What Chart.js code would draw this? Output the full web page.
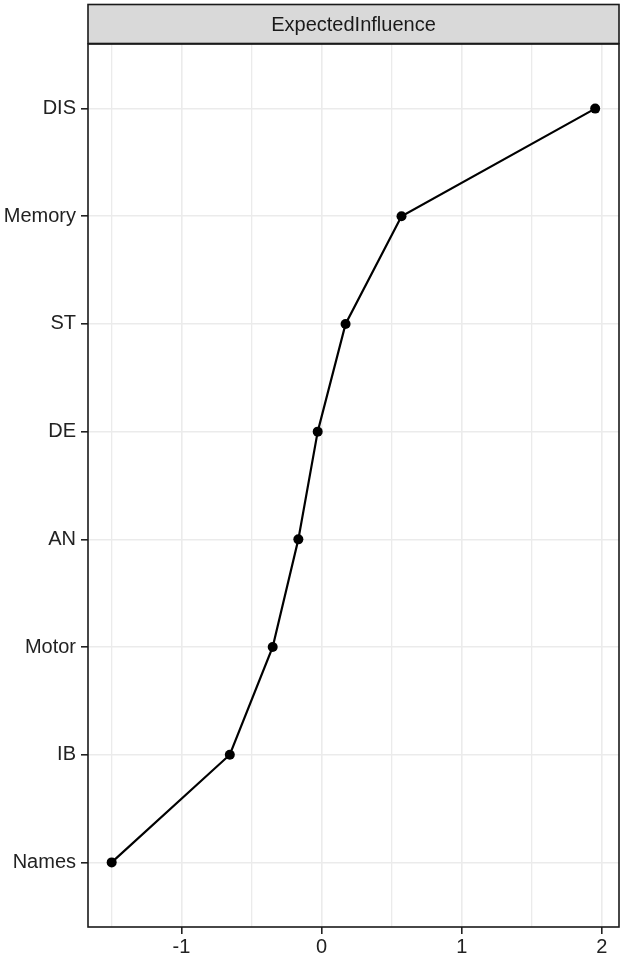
<!DOCTYPE html>
<html>
<head>
<meta charset="utf-8">
<script src="https://cdn.jsdelivr.net/npm/chart.js@4/dist/chart.umd.min.js"></script>
<style>
html,body{margin:0;padding:0;background:#fff;}
#wrap{width:624px;height:958px;position:relative;}
</style>
</head>
<body>
<div id="wrap"><canvas id="c" width="624" height="958"></canvas></div>
<script>
const categories = ["Names","IB","Motor","AN","DE","ST","Memory","DIS"];
const expectedInfluence = [-1.498, -0.655, -0.349, -0.166, -0.028, 0.171, 0.57, 1.952];
const xTickValues = [-1.5, -1, -0.5, 0, 0.5, 1, 1.5, 2];
const xTickLabels = {"-1":"-1","0":"0","1":"1","2":"2"};
const panelTitle = "ExpectedInfluence";

const FONT = "'Liberation Sans', Arial, sans-serif";
const points = expectedInfluence.map((v,i)=>({x:v, y:i+1}));

const panelPlugin = {
  id:'panel',
  afterDraw(chart){
    const {ctx, chartArea:a} = chart;
    ctx.save();
    const sTop = 4.5, sBot = a.top - 0.5;
    ctx.fillStyle = '#D9D9D9';
    ctx.fillRect(a.left, sTop, a.right - a.left, sBot - sTop);
    ctx.strokeStyle = '#1A1A1A';
    ctx.lineWidth = 1.6;
    ctx.strokeRect(a.left, sTop, a.right - a.left, sBot - sTop);
    ctx.fillStyle = '#1A1A1A';
    ctx.font = '20px ' + FONT;
    ctx.textAlign = 'center';
    ctx.textBaseline = 'middle';
    ctx.fillText(panelTitle, (a.left + a.right)/2, (sTop + sBot)/2 + 1);
    ctx.strokeRect(a.left, a.top, a.right - a.left, a.bottom - a.top);
    ctx.restore();
  }
};

new Chart(document.getElementById('c'), {
  type:'line',
  data:{
    datasets:[{
      data: points,
      borderColor:'#000',
      backgroundColor:'#000',
      borderWidth:2.2,
      pointRadius:5,
      pointHoverRadius:5,
      pointBackgroundColor:'#000',
      pointBorderWidth:0,
      tension:0,
      fill:false
    }]
  },
  options:{
    responsive:false,
    animation:false,
    devicePixelRatio:1,
    layout:{padding:{top:44, right:4, left:0, bottom:0}},
    plugins:{legend:{display:false}, tooltip:{enabled:false}},
    scales:{
      x:{
        type:'linear',
        min:-1.667, max:2.122,
        afterBuildTicks(scale){ scale.ticks = xTickValues.map(v=>({value:v})); },
        afterFit(scale){ scale.height = 31; },
        border:{display:false},
        grid:{
          color:'#EBEBEB',
          lineWidth:(c)=> Number.isInteger(c.tick.value) ? 1.6 : 1.3,
          drawTicks:true,
          tickLength:7,
          tickColor:(c)=> Number.isInteger(c.tick.value) ? '#222222' : 'rgba(0,0,0,0)',
          tickWidth:1.6
        },
        ticks:{
          autoSkip:false,
          maxRotation:0,
          padding:1,
          color:'#222222',
          font:{family:FONT, size:20},
          callback:(v)=> xTickLabels[String(v)] !== undefined ? xTickLabels[String(v)] : ''
        }
      },
      y:{
        type:'linear',
        min:0.4, max:8.6,
        afterBuildTicks(scale){ scale.ticks = categories.map((c,i)=>({value:i+1})); },
        afterFit(scale){ scale.width = 88; },
        border:{display:false},
        grid:{
          color:'#EBEBEB',
          lineWidth:1.6,
          tickLength:7,
          tickColor:'#222222',
          tickWidth:1.6
        },
        ticks:{
          autoSkip:false,
          padding:5,
          color:'#222222',
          font:{family:FONT, size:20},
          callback:(v)=> categories[v-1] || ''
        }
      }
    }
  },
  plugins:[panelPlugin]
});
</script>
</body>
</html>
